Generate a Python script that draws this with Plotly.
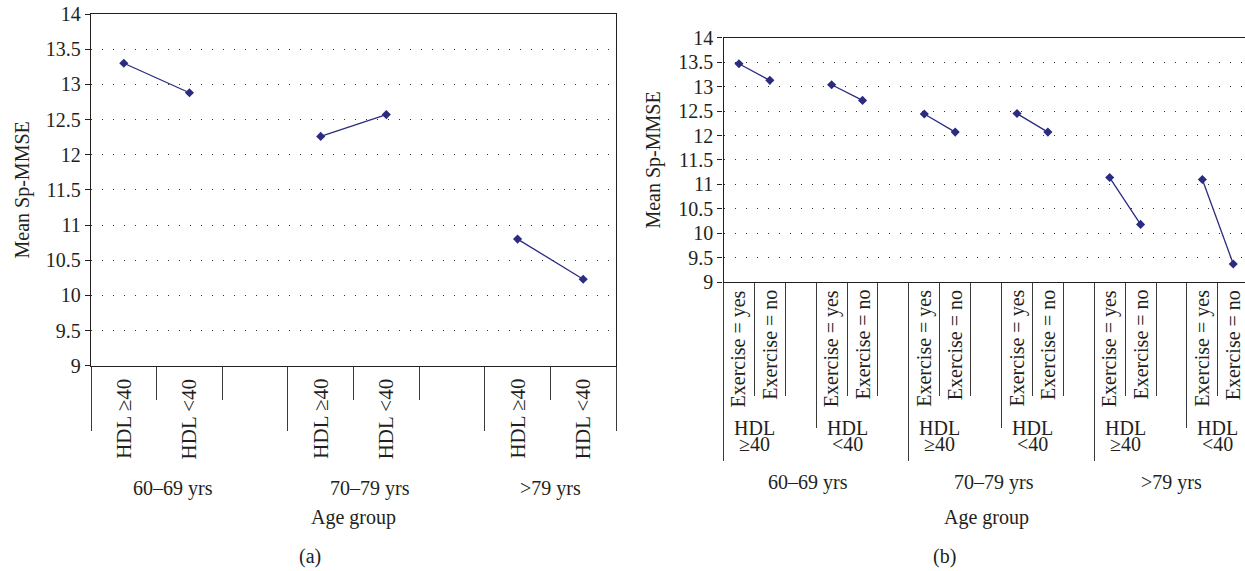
import plotly.graph_objects as go

# ---------------- data ----------------
age_groups = ["60–69 yrs", "70–79 yrs", ">79 yrs"]
hdl_levels_a = ["HDL ≥40", "HDL <40"]
hdl_levels_b = [["HDL", "≥40"], ["HDL", "<40"]]
exercise_levels = ["Exercise = yes", "Exercise = no"]
y_tick_vals = [9, 9.5, 10, 10.5, 11, 11.5, 12, 12.5, 13, 13.5, 14]

# panel (a): mean Sp-MMSE by age group, values for [HDL ≥40, HDL <40]
a_60_69 = [13.30, 12.88]
a_70_79 = [12.26, 12.57]
a_over79 = [10.80, 10.23]

# panel (b): by age group and HDL level, values for [Exercise = yes, Exercise = no]
b_60_69_hdl_hi = [13.47, 13.13]
b_60_69_hdl_lo = [13.04, 12.72]
b_70_79_hdl_hi = [12.44, 12.07]
b_70_79_hdl_lo = [12.45, 12.07]
b_over79_hdl_hi = [11.14, 10.18]
b_over79_hdl_lo = [11.10, 9.37]

values_a = [a_60_69, a_70_79, a_over79]
values_b = [[b_60_69_hdl_hi, b_60_69_hdl_lo],
            [b_70_79_hdl_hi, b_70_79_hdl_lo],
            [b_over79_hdl_hi, b_over79_hdl_lo]]

# ---------------- layout constants ----------------
W, H = 1245, 571
FONT = "Liberation Serif"
TXT = "#231f20"
NAVY = "#2b2b80"
AXC = "#231f20"
TICKC = "#3a3a3a"
FS = 20


def py(p):
    return 1 - p / H


# ---------------- slot structure ----------------
# (a): each age group holds the HDL levels followed by an empty slot
stride_a = len(hdl_levels_a) + 1
n_slots_a = stride_a * len(age_groups) - 1
# (b): each HDL level holds the exercise levels followed by an empty slot
stride_hdl_b = len(exercise_levels) + 1
stride_b = stride_hdl_b * len(hdl_levels_b)
n_slots_b = stride_b * len(age_groups) - 1

xs_a, ys_a = [], []
for g, vals in enumerate(values_a):
    for h, v in enumerate(vals):
        xs_a.append(g * stride_a + h)
        ys_a.append(v)
    xs_a.append(None)
    ys_a.append(None)

xs_b, ys_b = [], []
for g, grp in enumerate(values_b):
    for h, vals in enumerate(grp):
        for e, v in enumerate(vals):
            xs_b.append(g * stride_b + h * stride_hdl_b + e)
            ys_b.append(v)
        xs_b.append(None)
        ys_b.append(None)

end_a = n_slots_a - 0.5
end_b = n_slots_b - 0.5
major_a = [min(g * stride_a - 0.5, end_a) for g in range(len(age_groups) + 1)]
minor_a = [k + 0.5 for k in range(n_slots_a - 1) if (k + 0.5) not in major_a]
major_b = [g * stride_b - 0.5 for g in range(len(age_groups))]
medium_b = [g * stride_b + stride_hdl_b - 0.5 for g in range(len(age_groups))]
minor_b = [k + 0.5 for k in range(n_slots_b - 1)
           if (k + 0.5) not in major_b and (k + 0.5) not in medium_b]

fig = go.Figure()
line_style = dict(color=NAVY, width=1.3)
marker_style = dict(symbol="diamond", size=7, color=NAVY)
fig.add_trace(go.Scatter(x=xs_a, y=ys_a, mode="lines+markers", line=line_style,
                         marker=marker_style, connectgaps=False,
                         xaxis="x", yaxis="y", showlegend=False))
fig.add_trace(go.Scatter(x=xs_b, y=ys_b, mode="lines+markers", line=line_style,
                         marker=marker_style, connectgaps=False,
                         xaxis="x2", yaxis="y2", showlegend=False))
fig.add_trace(go.Scatter(x=[], y=[], xaxis="x3", yaxis="y2", showlegend=False))


def yax(standoff):
    return dict(
        range=[9, 14], tickmode="array", tickvals=y_tick_vals,
        ticks="outside", ticklen=5, tickcolor=AXC, tickwidth=1,
        showline=True, linecolor=AXC, linewidth=1.3,
        showgrid=True, gridcolor="#333333", gridwidth=1, griddash="1px,10px",
        zeroline=False, automargin=False,
        tickfont=dict(family=FONT, size=FS, color=TXT),
        title=dict(text="Mean Sp-MMSE", font=dict(family=FONT, size=FS, color=TXT),
                   standoff=standoff),
    )


fig.update_layout(
    width=W, height=H,
    margin=dict(l=0, r=0, t=0, b=0),
    paper_bgcolor="white", plot_bgcolor="white",
    showlegend=False,
    font=dict(family=FONT, size=FS, color=TXT),
    xaxis=dict(
        domain=[91 / W, 616 / W], anchor="y",
        range=[-0.5, end_a], showgrid=False, zeroline=False,
        showline=True, mirror=True, linecolor=AXC, linewidth=1.3,
        tickmode="array", tickvals=major_a, showticklabels=False,
        ticks="outside", ticklen=64, tickcolor=TICKC, tickwidth=1.3,
        minor=dict(tickmode="array", tickvals=minor_a, ticks="outside",
                   ticklen=33, tickcolor=TICKC, tickwidth=1.3, showgrid=False),
        automargin=False,
    ),
    yaxis=dict(domain=[py(365.7), py(14)], anchor="x", mirror=True, **yax(10)),
    xaxis2=dict(
        domain=[723.5 / W, 1.0], anchor="y2",
        range=[-0.5, end_b - 0.12], showgrid=False, zeroline=False,
        showline=True, mirror=True, linecolor=AXC, linewidth=1.3,
        tickmode="array", tickvals=major_b, showticklabels=False,
        ticks="outside", ticklen=178, tickcolor=TICKC, tickwidth=1.3,
        minor=dict(tickmode="array", tickvals=minor_b, ticks="outside",
                   ticklen=113, tickcolor=TICKC, tickwidth=1.3, showgrid=False),
        automargin=False,
    ),
    xaxis3=dict(
        overlaying="x2", anchor="y2", side="bottom",
        range=[-0.5, end_b - 0.12], showgrid=False, zeroline=False, showline=False,
        tickmode="array", tickvals=medium_b, showticklabels=False,
        ticks="outside", ticklen=145, tickcolor=TICKC, tickwidth=1.3,
        automargin=False,
    ),
    yaxis2=dict(domain=[py(282.0), py(37.9)], anchor="x2", mirror=False, **yax(12)),
)

ann = []
lab_font = dict(family=FONT, size=FS, color=TXT)
hdl_a_font = dict(family=FONT, size=21, color=TXT)

# panel (a) category labels
for g, grp in enumerate(age_groups):
    slots = [g * stride_a + h for h in range(len(hdl_levels_a))]
    for h, lab in enumerate(hdl_levels_a):
        ann.append(dict(text=lab, x=slots[h], xref="x", y=py(377), yref="paper",
                        textangle=-90, xanchor="center", yanchor="top",
                        showarrow=False, font=hdl_a_font))
    span_lo = g * stride_a - 0.5
    span_hi = min((g + 1) * stride_a - 0.5, end_a)
    xc = (sum(slots) / len(slots) + (span_lo + span_hi) / 2) / 2
    ann.append(dict(text=grp, x=xc, xref="x", y=py(488), yref="paper",
                    xanchor="center", yanchor="middle", showarrow=False, font=lab_font))
ann.append(dict(text="Age group", x=0.5, xref="x domain", y=py(517), yref="paper",
                xanchor="center", yanchor="middle", showarrow=False, font=lab_font))
ann.append(dict(text="(a)", x=310 / W, xref="paper", y=py(556), yref="paper",
                xanchor="center", yanchor="middle", showarrow=False, font=lab_font))

# panel (b) category labels
for g, grp in enumerate(age_groups):
    nonblank = []
    for h, hl in enumerate(hdl_levels_b):
        slots = [g * stride_b + h * stride_hdl_b + e for e in range(len(exercise_levels))]
        nonblank += slots
        for e, lab in enumerate(exercise_levels):
            ann.append(dict(text=lab, x=slots[e], xref="x2", y=py(288), yref="paper",
                            textangle=-90, xanchor="center", yanchor="top",
                            showarrow=False, font=lab_font))
        xc_h = sum(slots) / len(slots)
        ann.append(dict(text=hl[0], x=xc_h, xref="x2", y=py(428), yref="paper",
                        xanchor="center", yanchor="middle", showarrow=False, font=lab_font))
        ann.append(dict(text=hl[1], x=xc_h, xref="x2", y=py(444), yref="paper",
                        xanchor="center", yanchor="middle", showarrow=False, font=lab_font))
    span_lo = g * stride_b - 0.5
    span_hi = min((g + 1) * stride_b - 0.5, end_b)
    xc = (sum(nonblank) / len(nonblank) + (span_lo + span_hi) / 2) / 2
    ann.append(dict(text=grp, x=xc, xref="x2", y=py(482), yref="paper",
                    xanchor="center", yanchor="middle", showarrow=False, font=lab_font))
ann.append(dict(text="Age group", x=(-0.5 + end_b) / 2, xref="x2", y=py(517), yref="paper",
                xanchor="center", yanchor="middle", showarrow=False, font=lab_font))
ann.append(dict(text="(b)", x=944 / W, xref="paper", y=py(556), yref="paper",
                xanchor="center", yanchor="middle", showarrow=False, font=lab_font))

fig.update_layout(annotations=ann)
fig.write_html(
    "out.html",
    config={"displayModeBar": False},
    post_script="document.body.style.margin='0';document.body.style.overflow='hidden';",
)
